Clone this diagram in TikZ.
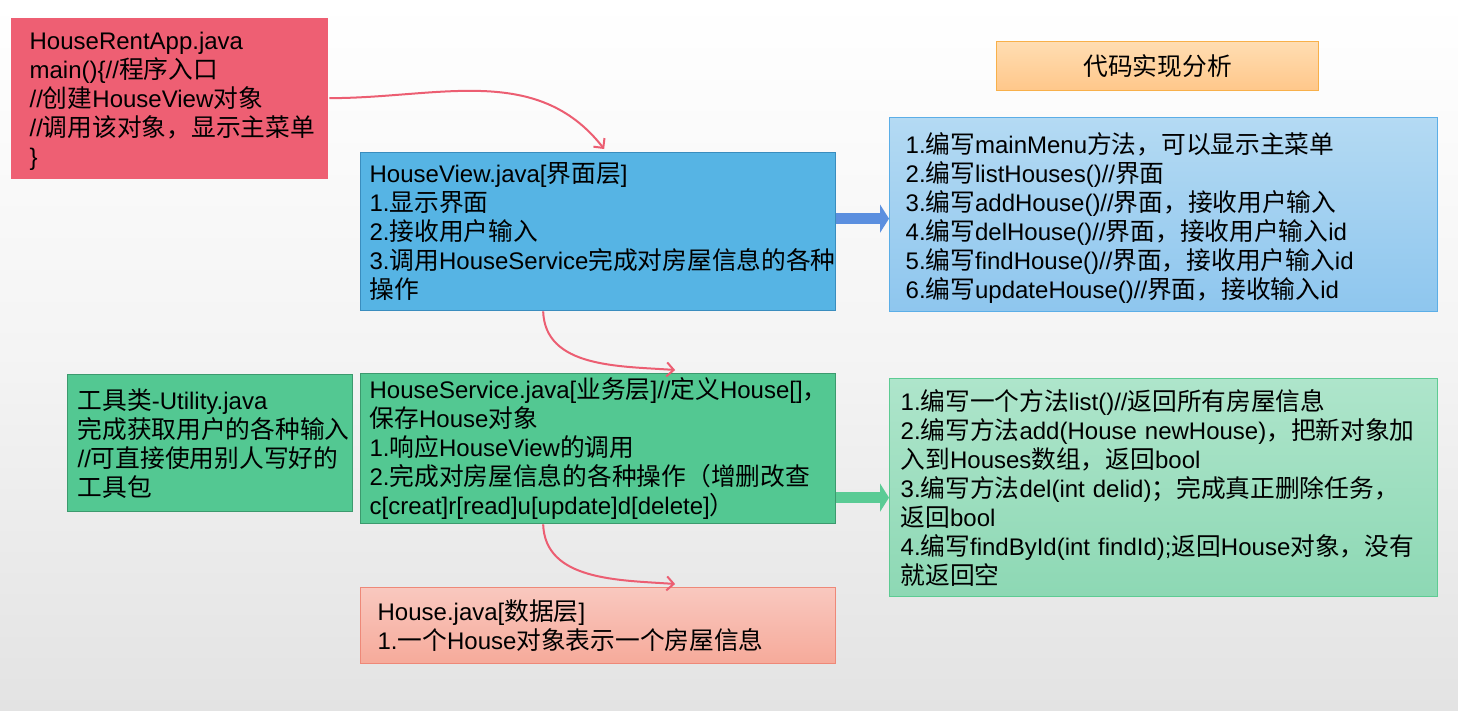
\documentclass[tikz,border=0pt]{standalone}
\usepackage{fontspec}
\setmainfont{Liberation Sans}
\newfontfamily\cjkf[Scale=1.03]{Noto Sans CJK SC}
\newfontfamily\latf{Liberation Sans}
\XeTeXinterchartokenstate=1
\newXeTeXintercharclass\CJKcls
\makeatletter
\count@="3000
\loop
  \XeTeXcharclass\count@=\CJKcls
  \ifnum\count@<"9FFF \advance\count@ by 1 \repeat
\count@="FF00
\loop
  \XeTeXcharclass\count@=\CJKcls
  \ifnum\count@<"FFEF \advance\count@ by 1 \repeat
\makeatother
\XeTeXinterchartoks 0 \CJKcls = {\cjkf}
\XeTeXinterchartoks 4095 \CJKcls = {\cjkf}
\XeTeXinterchartoks \CJKcls 0 = {\latf}
\XeTeXinterchartoks \CJKcls 4095 = {\latf}
\usetikzlibrary{arrows.meta}
\definecolor{appred}{HTML}{EE5F73}
\definecolor{hvblue}{HTML}{56B4E4}
\definecolor{hvborder}{HTML}{3A8DBE}
\definecolor{gfill}{HTML}{53C892}
\definecolor{gborder}{HTML}{3C9A6E}
\definecolor{rbtop}{HTML}{B4DAF3}
\definecolor{rbbot}{HTML}{8EC6EE}
\definecolor{rbborder}{HTML}{5BAEE7}
\definecolor{rgtop}{HTML}{AEE5CB}
\definecolor{rgbot}{HTML}{8DD8B4}
\definecolor{rgborder}{HTML}{5DCB93}
\definecolor{hotop}{HTML}{F9C8BF}
\definecolor{hobot}{HTML}{F6AA9A}
\definecolor{hoborder}{HTML}{EE8878}
\definecolor{ttop}{HTML}{FFDDB2}
\definecolor{tbot}{HTML}{FFC78A}
\definecolor{tborder}{HTML}{F8B04A}
\definecolor{arrowred}{HTML}{EC5E72}
\definecolor{barrowblue}{HTML}{5B8FDF}
\definecolor{barrowgreen}{HTML}{5ACB95}
\definecolor{bggray}{HTML}{E3E3E3}
\tikzset{
  box/.style n args={3}{anchor=north west, minimum width=#1pt, minimum height=#2pt,
    text width={#1pt-2*#3pt}, inner xsep=#3pt, inner ysep=0pt, align=left,
    font=\fontsize{24}{29}\selectfont, line width=1.3pt},
  curvearrow/.style={draw=arrowred, line width=2pt, -{Straight Barb[length=7pt,width=14pt]}},
  blockarrow/.style={line width=11pt, -{Triangle[length=9pt,width=28pt]}},
}
\begin{document}
\begin{tikzpicture}[x=1pt,y=1pt]
\useasboundingbox (0,0) rectangle (1458,-710);
\shade[top color=white, bottom color=bggray, middle color=white!60!bggray] (0,0) rectangle (1458,-710);
% boxes
\node[box={317}{161}{19}, fill=appred] (app) at (10,-17)
  {\rule{0pt}{24pt}HouseRentApp.java\\main()\{//程序入口\\//创建HouseView对象\\//调用该对象，显示主菜单\\\}};
\node[box={475}{158}{9}, fill=hvblue, draw=hvborder] (hv) at (360,-152)
  {HouseView.java[界面层]\\1.显示界面\\2.接收用户输入\\3.调用HouseService完成对房屋信息的各种\\操作};
\node[box={322}{49}{10}, top color=ttop, bottom color=tbot, draw=tborder, align=center] (title) at (996,-41)
  {代码实现分析};
\node[box={548}{194}{16}, top color=rbtop, bottom color=rbbot, draw=rbborder] (rb) at (889,-117)
  {\rule{0pt}{27pt}1.编写mainMenu方法，可以显示主菜单\\2.编写listHouses()//界面\\3.编写addHouse()//界面，接收用户输入\\4.编写delHouse()//界面，接收用户输入id\\5.编写findHouse()//界面，接收用户输入id\\6.编写updateHouse()//界面，接收输入id};
\node[box={285}{137}{10}, fill=gfill, draw=gborder] (util) at (67,-374)
  {工具类-Utility.java\\完成获取用户的各种输入\\//可直接使用别人写好的\\工具包};
\node[box={475}{150}{9}, fill=gfill, draw=gborder] (hs) at (360,-373)
  {HouseService.java[业务层]//定义House[]，\\保存House对象\\1.响应HouseView的调用\\2.完成对房屋信息的各种操作（增删改查\\c[creat]r[read]u[update]d[delete]）};
\node[box={548}{218}{11}, top color=rgtop, bottom color=rgbot, draw=rgborder] (rg) at (889,-378)
  {1.编写一个方法list()//返回所有房屋信息\\2.编写方法add(House newHouse)，把新对象加\\入到Houses数组，返回bool\\3.编写方法del(int delid)；完成真正删除任务，\\返回bool\\4.编写findById(int findId);返回House对象，没有\\就返回空};
\node[box={475}{76}{17}, top color=hotop, bottom color=hobot, draw=hoborder] (house) at (360,-587)
  {House.java[数据层]\\1.一个House对象表示一个房屋信息};
% curved arrows
\coordinate (a1e) at ([xshift=6pt,yshift=3pt]hv.north);
\draw[curvearrow] ([xshift=1pt]app.east) to[out=0,in=128] (a1e);
\coordinate (a2s) at ([xshift=-55pt]hv.south);
\coordinate (a2e) at ([xshift=77pt,yshift=3pt]hs.north);
\draw[curvearrow] (a2s) to[out=-88,in=176] (a2e);
\coordinate (a3s) at ([xshift=-55pt]hs.south);
\coordinate (a3e) at ([xshift=77pt,yshift=3pt]house.north);
\draw[curvearrow] (a3s) to[out=-88,in=176] (a3e);
% block arrows
\coordinate (b1s) at ([yshift=13pt]hv.east);
\draw[blockarrow, draw=barrowblue, fill=barrowblue] (b1s) -- (b1s -| rb.west);
\coordinate (b2s) at ([yshift=-49pt]hs.east);
\draw[blockarrow, draw=barrowgreen, fill=barrowgreen] (b2s) -- (b2s -| rg.west);
\end{tikzpicture}
\end{document}
